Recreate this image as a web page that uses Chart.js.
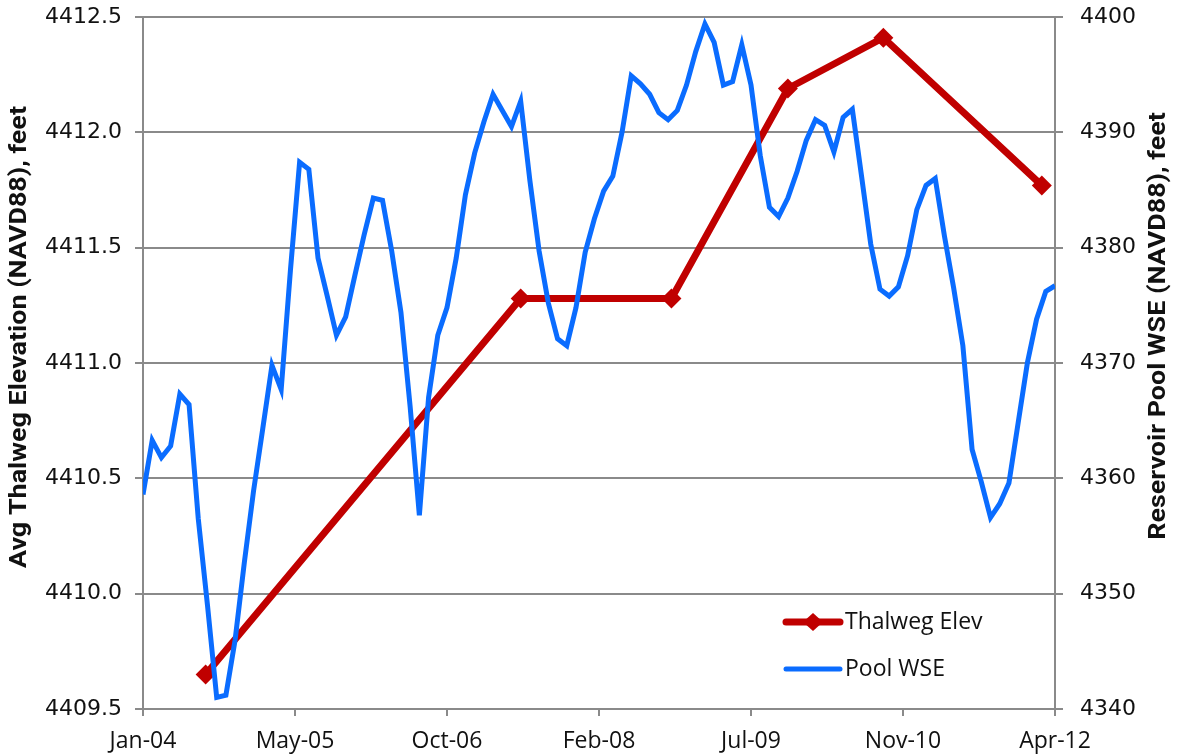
<!DOCTYPE html>
<html>
<head>
<meta charset="utf-8">
<script src="https://cdn.jsdelivr.net/npm/chart.js@4.4.1/dist/chart.umd.min.js"></script>
<style>
  body { margin: 0; background: #fff; }
  #wrap { width: 1177px; height: 754px; }
</style>
</head>
<body>
<div id="wrap"><canvas id="chart" width="1177" height="754"></canvas></div>
<script>
// x axis runs in months from Jan-04 (= 0) to Apr-12 (= 99)
const xTickLabels = ['Jan-04', 'May-05', 'Oct-06', 'Feb-08', 'Jul-09', 'Nov-10', 'Apr-12'];
const xTickMonths = [0, 16.5, 33, 49.5, 66, 82.5, 99];

// thalweg surveys
const thalwegDates = ['2004-07-25', '2007-06-01', '2008-10-12', '2009-11-01', '2010-09-12', '2012-02-18'];
const thalwegElev = [4409.65, 4411.28, 4411.28, 4412.19, 4412.41, 4411.77];

// pool water surface elevation, monthly Jan-04 .. Apr-12
const poolWse = [
  4358.6, 4363.3, 4361.8, 4362.8, 4367.3, 4366.4, 4356.5, 4349.0, 4341.0, 4341.2,
  4346.0, 4352.7, 4358.9, 4364.3, 4369.8, 4367.7, 4378.0, 4387.4, 4386.8, 4379.1,
  4375.8, 4372.4, 4374.0, 4377.6, 4381.1, 4384.3, 4384.1, 4379.7, 4374.4, 4366.2,
  4356.8, 4367.0, 4372.4, 4374.8, 4379.1, 4384.6, 4388.2, 4390.9, 4393.3, 4391.9,
  4390.5, 4392.7, 4385.8, 4379.7, 4375.2, 4372.1, 4371.5, 4374.8, 4379.6, 4382.5,
  4384.9, 4386.2, 4390.0, 4394.9, 4394.2, 4393.3, 4391.7, 4391.1, 4391.9, 4394.1,
  4397.0, 4399.4, 4397.8, 4394.1, 4394.4, 4397.6, 4394.1, 4388.0, 4383.5, 4382.7,
  4384.3, 4386.6, 4389.3, 4391.1, 4390.6, 4388.3, 4391.3, 4392.0, 4386.2, 4380.3,
  4376.4, 4375.8, 4376.6, 4379.3, 4383.3, 4385.4, 4386.0, 4381.0, 4376.5, 4371.5,
  4362.5, 4359.7, 4356.6, 4357.8, 4359.6, 4364.8, 4370.0, 4373.8, 4376.2, 4376.7
];

const leftTitle = 'Avg Thalweg Elevation (NAVD88), feet';
const rightTitle = 'Reservoir Pool WSE (NAVD88), feet';

function monthIndex(d) {
  const [y, m, day] = d.split('-').map(Number);
  return (y - 2004) * 12 + (m - 1) + (day - 1) / 30;
}

const gridGray = '#8a8a8a';
const red = '#c00000';
const blue = '#0a6cff';

Chart.defaults.font.family = 'DejaVu Sans';
Chart.defaults.color = '#111';

// rotated title, squeezed along its length like the original
function drawTitle(ctx, text, x, y, squeeze) {
  ctx.save();
  ctx.translate(x, y);
  ctx.rotate(-Math.PI / 2);
  ctx.scale(squeeze, 1);
  ctx.font = 'bold 24px Roboto';
  ctx.textAlign = 'center';
  ctx.textBaseline = 'middle';
  ctx.fillStyle = '#111';
  ctx.fillText(text, 0, 0);
  ctx.restore();
}

const extras = {
  id: 'extras',
  afterDraw(chart) {
    const ctx = chart.ctx;
    ctx.save();
    // legend inside the plot, bottom right
    const rows = [622, 669];
    ctx.font = '23px "Open Sans"';
    ctx.textBaseline = 'middle';
    chart.data.datasets.forEach(ds => {
      const y = rows[ds.legendRow];
      ctx.strokeStyle = ds.borderColor;
      ctx.lineWidth = ds.borderWidth;
      ctx.lineCap = 'round';
      ctx.beginPath();
      ctx.moveTo(786, y);
      ctx.lineTo(840, y);
      ctx.stroke();
      if (ds.pointRadius > 0) {
        ctx.fillStyle = ds.borderColor;
        ctx.beginPath();
        ctx.moveTo(813 - 10, y);
        ctx.lineTo(813, y - 9);
        ctx.lineTo(813 + 10, y);
        ctx.lineTo(813, y + 9);
        ctx.closePath();
        ctx.fill();
      }
      ctx.fillStyle = '#111';
      ctx.fillText(ds.label, 845, y);
    });
    ctx.restore();

    ctx.save();
    ctx.font = 'bold 24px Roboto';
    const squeeze = 462 / ctx.measureText(leftTitle).width;
    ctx.restore();
    drawTitle(ctx, leftTitle, 20, 337, squeeze);
    drawTitle(ctx, rightTitle, 1159, 326, squeeze);
  }
};

// y axes: fixed width and no extra label padding, so the plot box sits where the original does
function fitY(width) {
  return s => {
    s.width = width;
    s.paddingTop = 0;
    s.paddingBottom = 0;
  };
}

new Chart(document.getElementById('chart'), {
  type: 'line',
  data: {
    datasets: [{
      label: 'Thalweg Elev',
      data: thalwegDates.map((d, i) => ({ x: monthIndex(d), y: thalwegElev[i] })),
      yAxisID: 'y',
      borderColor: red,
      backgroundColor: red,
      borderWidth: 7,
      pointStyle: 'rectRot',
      pointRadius: 10,
      pointHoverRadius: 10,
      pointBorderWidth: 0,
      tension: 0,
      order: 1,
      legendRow: 0
    }, {
      label: 'Pool WSE',
      data: poolWse.map((v, i) => ({ x: i, y: v })),
      yAxisID: 'y2',
      borderColor: blue,
      backgroundColor: blue,
      borderWidth: 5,
      pointRadius: 0,
      tension: 0,
      order: 0,
      legendRow: 1
    }]
  },
  options: {
    responsive: false,
    animation: false,
    layout: { padding: { top: 17, left: 0, right: 0, bottom: 0 } },
    plugins: {
      legend: { display: false },
      tooltip: { enabled: false }
    },
    scales: {
      x: {
        type: 'linear',
        min: 0,
        max: 99,
        afterBuildTicks: s => { s.ticks = xTickMonths.map(v => ({ value: v })); },
        afterFit: s => { s.height = 45; },
        ticks: {
          autoSkip: false,
          maxRotation: 0,
          padding: 12,
          font: { family: 'Open Sans', size: 23 },
          callback: (v, i) => xTickLabels[i]
        },
        grid: { drawOnChartArea: false, color: gridGray, lineWidth: 2, tickLength: 7 },
        border: { color: gridGray, width: 2 }
      },
      y: {
        position: 'left',
        min: 4409.5,
        max: 4412.5,
        afterFit: fitY(143),
        ticks: {
          stepSize: 0.5,
          padding: 13,
          font: { size: 22 },
          callback: v => v.toFixed(1)
        },
        grid: { color: gridGray, lineWidth: 2, tickLength: 8 },
        border: { color: gridGray, width: 2 }
      },
      y2: {
        position: 'right',
        min: 4340,
        max: 4400,
        afterFit: fitY(122),
        ticks: { stepSize: 10, padding: 17, font: { size: 22 }, callback: v => String(v) },
        grid: { drawOnChartArea: false, color: gridGray, lineWidth: 2, tickLength: 8 },
        border: { color: gridGray, width: 2 }
      }
    }
  },
  plugins: [extras]
});
</script>
</body>
</html>
